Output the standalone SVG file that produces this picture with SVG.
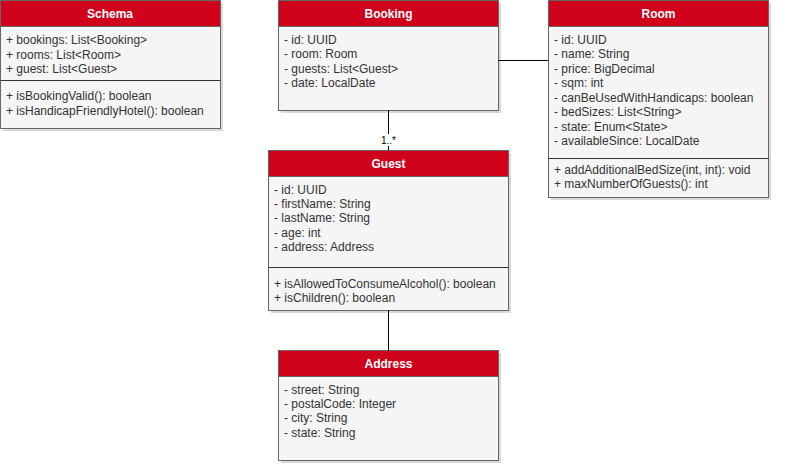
<svg xmlns="http://www.w3.org/2000/svg" width="803" height="475" viewBox="0 0 803 475">
<style>
.box{fill:#f5f5f5;stroke:#666;stroke-width:1}
.hdr{fill:#d0021b;stroke:#666;stroke-width:1}
.sh{fill:#000;opacity:0.15}
.t{font-family:"Liberation Sans",Arial,sans-serif;font-size:12px;fill:#333}
.h{font-family:"Liberation Sans",Arial,sans-serif;font-size:12px;font-weight:bold;fill:#fff;text-anchor:middle}
.dv{stroke:#333;stroke-width:1}
.cn{stroke:#000;stroke-width:1;fill:none}
</style>
<rect width="803" height="475" fill="#fff"/>
<g id="Schema">
<rect class="sh" x="3" y="3" width="220" height="128"/>
<rect class="box" x="0.5" y="0.5" width="220" height="128"/>
<rect class="hdr" x="0.5" y="0.5" width="220" height="26"/>
<text class="h" x="110" y="18">Schema</text>
<text class="t" x="6" y="44">+ bookings: List&lt;Booking&gt;</text>
<text class="t" x="6" y="59">+ rooms: List&lt;Room&gt;</text>
<text class="t" x="6" y="73">+ guest: List&lt;Guest&gt;</text>
<line class="dv" x1="0.5" y1="80.5" x2="220.5" y2="80.5"/>
<text class="t" x="6" y="100">+ isBookingValid(): boolean</text>
<text class="t" x="6" y="115">+ isHandicapFriendlyHotel(): boolean</text>
</g>
<g id="Booking">
<rect class="sh" x="281" y="3" width="220" height="110"/>
<rect class="box" x="278.5" y="0.5" width="220" height="110"/>
<rect class="hdr" x="278.5" y="0.5" width="220" height="26"/>
<text class="h" x="388.5" y="18">Booking</text>
<text class="t" x="284" y="44">- id: UUID</text>
<text class="t" x="284" y="58">- room: Room</text>
<text class="t" x="284" y="73">- guests: List&lt;Guest&gt;</text>
<text class="t" x="284" y="87">- date: LocalDate</text>
</g>
<g id="Room">
<rect class="sh" x="551" y="3" width="220" height="197"/>
<rect class="box" x="548.5" y="0.5" width="220" height="197"/>
<rect class="hdr" x="548.5" y="0.5" width="220" height="26"/>
<text class="h" x="658.5" y="18">Room</text>
<text class="t" x="554" y="44">- id: UUID</text>
<text class="t" x="554" y="58">- name: String</text>
<text class="t" x="554" y="73">- price: BigDecimal</text>
<text class="t" x="554" y="87">- sqm: int</text>
<text class="t" x="554" y="102">- canBeUsedWithHandicaps: boolean</text>
<text class="t" x="554" y="116">- bedSizes: List&lt;String&gt;</text>
<text class="t" x="554" y="131">- state: Enum&lt;State&gt;</text>
<text class="t" x="554" y="145">- availableSince: LocalDate</text>
<line class="dv" x1="548.5" y1="158.5" x2="768.5" y2="158.5"/>
<text class="t" x="554" y="174">+ addAdditionalBedSize(int, int): void</text>
<text class="t" x="554" y="188">+ maxNumberOfGuests(): int</text>
</g>
<g id="Guest">
<rect class="sh" x="271" y="153" width="240" height="160"/>
<rect class="box" x="268.5" y="150.5" width="240" height="160"/>
<rect class="hdr" x="268.5" y="150.5" width="240" height="26"/>
<text class="h" x="388.5" y="168">Guest</text>
<text class="t" x="274" y="194">- id: UUID</text>
<text class="t" x="274" y="208">- firstName: String</text>
<text class="t" x="274" y="222">- lastName: String</text>
<text class="t" x="274" y="237">- age: int</text>
<text class="t" x="274" y="251">- address: Address</text>
<line class="dv" x1="268.5" y1="267.5" x2="508.5" y2="267.5"/>
<text class="t" x="274" y="288">+ isAllowedToConsumeAlcohol(): boolean</text>
<text class="t" x="274" y="302">+ isChildren(): boolean</text>
</g>
<g id="Address">
<rect class="sh" x="281" y="353" width="220" height="110"/>
<rect class="box" x="278.5" y="350.5" width="220" height="110"/>
<rect class="hdr" x="278.5" y="350.5" width="220" height="26"/>
<text class="h" x="388.5" y="368">Address</text>
<text class="t" x="284" y="394">- street: String</text>
<text class="t" x="284" y="408">- postalCode: Integer</text>
<text class="t" x="284" y="422">- city: String</text>
<text class="t" x="284" y="437">- state: String</text>
</g>
<g id="connectors">
<line class="cn" x1="498.5" y1="60.5" x2="548.5" y2="60.5"/>
<line class="cn" x1="388.5" y1="110.5" x2="388.5" y2="150.5"/>
<line class="cn" x1="388.5" y1="310.5" x2="388.5" y2="350.5"/>
<rect x="379" y="134" width="19" height="12" fill="#fff"/>
<text x="388.5" y="144" text-anchor="middle" style="font-family:'Liberation Sans',Arial,sans-serif;font-size:10px;fill:#000">1..*</text>
</g>
</svg>
